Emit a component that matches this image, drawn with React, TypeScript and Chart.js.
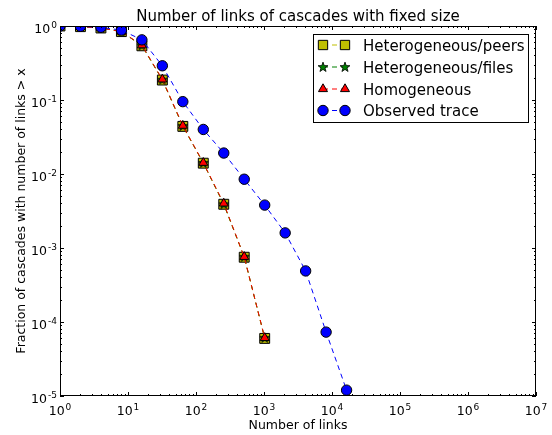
import { useEffect, useRef } from "react";
import { Chart, registerables } from "chart.js";
import { drawPoint } from "chart.js/helpers";

Chart.register(...registerables);

// ---- data ----
const linksModel = [1, 2, 4, 8, 16, 32, 64, 128, 256, 512, 1024];
const linksObserved = [1, 2, 4, 8, 16, 32, 64, 128, 256, 512, 1024, 2048, 4096, 8192, 16384];
const heteroPeers = [1.0, 0.98, 0.94, 0.84, 0.54, 0.186, 0.044, 0.0140, 0.0039, 0.00075, 0.000060];
const heteroFiles = [1.0, 0.98, 0.94, 0.84, 0.545, 0.188, 0.0445, 0.0141, 0.0039, 0.00076, 0.000061];
const homogeneous = [1.0, 0.98, 0.94, 0.84, 0.55, 0.19, 0.045, 0.0142, 0.0040, 0.00076, 0.000061];
const observedTrace = [1.0, 0.99, 0.96, 0.88, 0.65, 0.29, 0.095, 0.040, 0.0192, 0.0085, 0.0038, 0.0016, 0.00049, 0.000073, 0.000012];
const xTickExponents = [0, 1, 2, 3, 4, 5, 6, 7];
const yTickExponents = [0, -1, -2, -3, -4, -5];
const seriesLabels = ["Heterogeneous/peers", "Heterogeneous/files", "Homogeneous", "Observed trace"];
const titleText = "Number of links of cascades with fixed size";
const xLabelText = "Number of links";
const yLabelText = "Fraction of cascades with number of links > x";

const FONT = "'DejaVu Sans', sans-serif";

function makeStar(): HTMLCanvasElement {
  const c = document.createElement("canvas");
  c.width = 12;
  c.height = 12;
  const g = c.getContext("2d")!;
  const cx = 6, cy = 6.3, ro = 5.2, ri = 2.1;
  g.beginPath();
  for (let i = 0; i < 10; i++) {
    const r = i % 2 === 0 ? ro : ri;
    const a = -Math.PI / 2 + (i * Math.PI) / 5;
    const px = cx + r * Math.cos(a);
    const py = cy + r * Math.sin(a);
    if (i === 0) g.moveTo(px, py);
    else g.lineTo(px, py);
  }
  g.closePath();
  g.fillStyle = "#008000";
  g.fill();
  g.lineWidth = 0.8;
  g.strokeStyle = "#000";
  g.stroke();
  return c;
}

export default function App() {
  const ref = useRef<HTMLCanvasElement>(null);

  useEffect(() => {
    const canvas = ref.current!;
    const star = makeStar();
    const pts = (xs: number[], ys: number[]) => xs.map((x, i) => ({ x, y: ys[i] }));

    const styles = [
      { pointStyle: "rect", radius: 7, fill: "rgb(191,191,0)", line: "rgb(191,191,0)" },
      { pointStyle: star as any, radius: 5, fill: "#008000", line: "#008000" },
      { pointStyle: "triangle", radius: 5.2, fill: "#ff0000", line: "#ff0000" },
      { pointStyle: "circle", radius: 5.2, fill: "#0000ff", line: "#0000ff" },
    ];
    const dataArrays = [
      pts(linksModel, heteroPeers),
      pts(linksModel, heteroFiles),
      pts(linksModel, homogeneous),
      pts(linksObserved, observedTrace),
    ];

    const datasets = dataArrays.map((d, i) => ({
      label: seriesLabels[i],
      data: d,
      showLine: true,
      borderColor: styles[i].line,
      borderWidth: 1,
      borderDash: [5, 4],
      backgroundColor: styles[i].fill,
      pointStyle: styles[i].pointStyle,
      pointRadius: styles[i].radius,
      pointHoverRadius: styles[i].radius,
      pointBackgroundColor: styles[i].fill,
      pointBorderColor: "#000",
      pointBorderWidth: 1,
      order: 4 - i,
      clip: 0,
      tension: 0,
    }));

    const decorPlugin = {
      id: "decor",
      afterDatasetsDraw(chart: any) {
        const ctx: CanvasRenderingContext2D = chart.ctx;
        const { left, right, top, bottom } = chart.chartArea;
        const xs = chart.scales.x;
        const ys = chart.scales.y;
        ctx.save();
        // frame
        ctx.strokeStyle = "#000";
        ctx.lineWidth = 1;
        ctx.strokeRect(left + 0.5, top + 0.5, right - left - 1, bottom - top - 1);
        // ticks
        const major = 4, minor = 2;
        ctx.beginPath();
        for (let e = 0; e <= 7; e++) {
          for (let m = 1; m <= 9; m++) {
            if (e === 7 && m > 1) break;
            const v = m * Math.pow(10, e);
            const px = Math.round(xs.getPixelForValue(v)) + 0.5;
            const L = m === 1 ? major : minor;
            ctx.moveTo(px, bottom);
            ctx.lineTo(px, bottom - L);
            ctx.moveTo(px, top);
            ctx.lineTo(px, top + L);
          }
        }
        for (let e = -5; e <= 0; e++) {
          for (let m = 1; m <= 9; m++) {
            if (e === 0 && m > 1) break;
            const v = m * Math.pow(10, e);
            const py = Math.round(ys.getPixelForValue(v)) + 0.5;
            const L = m === 1 ? major : minor;
            ctx.moveTo(left, py);
            ctx.lineTo(left + L, py);
            ctx.moveTo(right, py);
            ctx.lineTo(right - L, py);
          }
        }
        ctx.stroke();

        // tick labels
        ctx.fillStyle = "#000";
        ctx.textBaseline = "alphabetic";
        ctx.textAlign = "left";
        const drawPow = (exp: number, x: number, y: number, align: string) => {
          const base = "10";
          const sup = String(exp);
          ctx.font = `12.5px ${FONT}`;
          const w1 = ctx.measureText(base).width;
          ctx.font = `9px ${FONT}`;
          const w2 = ctx.measureText(sup).width;
          const total = w1 + 1 + w2;
          const sx = align === "center" ? x - total / 2 : x - total;
          ctx.font = `12.5px ${FONT}`;
          ctx.fillText(base, sx, y);
          ctx.font = `9px ${FONT}`;
          ctx.fillText(sup, sx + w1 + 1, y - 5.5);
        };
        xTickExponents.forEach((e) => {
          drawPow(e, xs.getPixelForValue(Math.pow(10, e)), bottom + 19, "center");
        });
        yTickExponents.forEach((e) => {
          drawPow(e, left - 3, ys.getPixelForValue(Math.pow(10, e)) + 7, "right");
        });

        // title and axis labels
        ctx.textAlign = "center";
        ctx.font = `15px ${FONT}`;
        ctx.fillText(titleText, (left + right) / 2, top - 5);
        ctx.font = `12.5px ${FONT}`;
        ctx.fillText(xLabelText, (left + right) / 2, 429);
        ctx.save();
        ctx.translate(25, (top + bottom) / 2);
        ctx.rotate(-Math.PI / 2);
        ctx.fillText(yLabelText, 0, 0);
        ctx.restore();

        // legend
        const lx0 = right - 223, ly0 = top + 8, lw = 215, lh = 88;
        ctx.fillStyle = "#fff";
        ctx.fillRect(lx0, ly0, lw, lh);
        ctx.strokeStyle = "#000";
        ctx.lineWidth = 1;
        ctx.strokeRect(lx0 + 0.5, ly0 + 0.5, lw, lh);
        const rowY = [45, 67, 89, 110.5];
        chart.data.datasets.forEach((ds: any, i: number) => {
          const y = rowY[i];
          const x1 = 323, x2 = 345;
          ctx.save();
          ctx.strokeStyle = ds.borderColor;
          ctx.lineWidth = 1;
          ctx.setLineDash([5, 4]);
          ctx.beginPath();
          ctx.moveTo(x1, y);
          ctx.lineTo(x2, y);
          ctx.stroke();
          ctx.restore();
          const r = i === 0 ? 6.6 : ds.pointRadius;
          [x1, x2].forEach((x) => {
            ctx.save();
            ctx.fillStyle = ds.pointBackgroundColor;
            ctx.strokeStyle = "#000";
            ctx.lineWidth = 1;
            drawPoint(ctx, { pointStyle: ds.pointStyle, radius: r, rotation: 0, borderWidth: 1 } as any, x, y);
            ctx.restore();
          });
          ctx.fillStyle = "#000";
          ctx.textAlign = "left";
          ctx.font = `15px ${FONT}`;
          ctx.fillText(ds.label, 363, y + 5.5);
        });
        ctx.restore();
      },
    };

    const chart = new Chart(canvas, {
      type: "scatter",
      data: { datasets: datasets as any },
      options: {
        animation: false,
        responsive: false,
        devicePixelRatio: 1,
        layout: { padding: { left: 60, right: 16, top: 26, bottom: 39 } },
        plugins: { legend: { display: false }, title: { display: false }, tooltip: { enabled: false } },
        events: [],
        scales: {
          x: { type: "logarithmic", min: 1, max: 1e7, display: false },
          y: { type: "logarithmic", min: 1e-5, max: 1, display: false },
        },
      },
      plugins: [decorPlugin],
    });
    return () => chart.destroy();
  }, []);

  return (
    <div style={{ position: "absolute", left: 0, top: 0, width: 552, height: 435, background: "#fff" }}>
      <canvas ref={ref} width={552} height={435} style={{ width: 552, height: 435 }} />
    </div>
  );
}
